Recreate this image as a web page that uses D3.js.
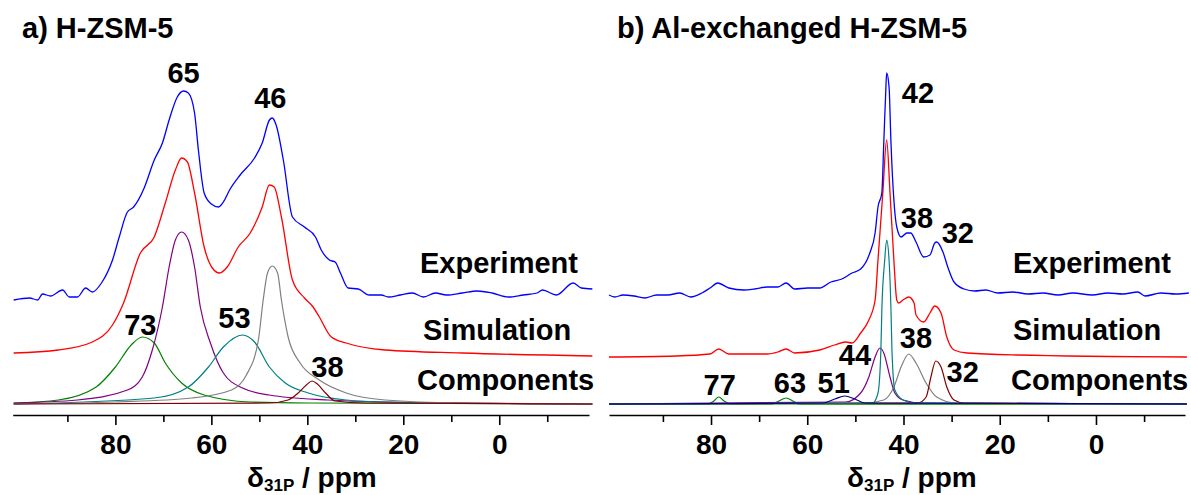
<!DOCTYPE html>
<html><head><meta charset="utf-8">
<script src="https://cdn.jsdelivr.net/npm/d3@7"></script>
<style>
html,body{margin:0;padding:0;background:#fff;}
text{font-family:"Liberation Sans",Arial,sans-serif;font-weight:bold;fill:#000;}
</style></head><body>
<svg id="c" width="1191" height="495"></svg>
<script>
// ---------- DATA (ppm, intensity) ----------
const majorTicks = [80, 60, 40, 20, 0];
const minorTicks = [90, 70, 50, 30, 10, -10];
const panelTitles = ["a) H-ZSM-5", "b) Al-exchanged H-ZSM-5"];
const rowLabels = ["Experiment", "Simulation", "Components"];

// Panel a
const aExperiment = [[101.2,-6],[97.9,-4],[96.2,-6],[95.2,0],[93.5,-2],[91.0,4],[89.6,-3],[87.9,-3],[86.2,6],[84.8,2],[82.9,11],[80.6,34],[79.2,57],[77.5,82],[76.2,87],[74.0,106],[71.9,134],[70.2,151],[68.8,174],[67.1,197],[65.8,203],[64.8,201],[63.5,181],[62.7,144],[61.5,101],[60.0,90],[58.5,87],[57.5,92],[56.2,104],[54.0,119],[51.0,136],[49.4,151],[47.9,174],[47.3,176],[46.5,169],[45.0,134],[43.1,77],[40.6,67],[38.3,57],[37.1,44],[35.4,34],[34.2,32],[33.1,21],[31.5,6],[29.4,5],[27.1,-1],[24.6,-1],[23.1,-3],[20.6,-1],[18.1,1],[15.8,-3],[13.3,1],[11.0,-1],[7.7,1],[4.6,3],[1.5,1],[-1.9,-3],[-5.0,-1],[-7.9,1],[-9.0,4],[-11.9,-1],[-15.4,11],[-17.1,6],[-19.4,5]];
const aSimulation = [[101.2,3],[91.9,6],[84.8,14],[80.6,31],[78.3,53],[74.8,103],[71.9,119],[69.6,153],[67.5,186],[66.2,198],[65.0,194],[63.5,163],[61.5,109],[59.8,88],[58.3,83],[56.7,89],[54.4,109],[51.9,123],[49.4,149],[47.9,171],[46.9,169],[45.4,139],[43.1,76],[40.6,58],[38.8,49],[37.5,39],[35.0,19],[31.9,13],[23.8,6],[7.7,3],[-19.4,0]];
const aComp73 = [[101.2,1],[91.9,4],[84.0,17],[80.0,37],[76.7,59],[74.4,67],[71.9,61],[69.6,41],[66.2,21],[61.5,9],[51.9,2],[39.8,1],[-19.4,0]];
const aComp66 = [[101.2,1],[87.9,4],[77.5,14],[74.4,27],[72.3,54],[70.2,97],[68.8,137],[67.5,164],[66.2,172],[64.8,164],[63.5,137],[62.3,97],[60.2,61],[57.5,31],[53.5,16],[47.9,9],[35.8,4],[23.8,2],[-19.4,0]];
const aComp53 = [[101.2,0],[71.9,6],[64.8,17],[60.6,37],[57.5,57],[53.5,69],[51.0,62],[47.9,37],[44.6,21],[39.8,11],[31.9,4],[23.8,2],[-19.4,0]];
const aComp47 = [[101.2,0],[80.0,2],[64.0,6],[55.8,14],[52.7,29],[50.2,64],[49.2,104],[48.3,131],[47.3,138],[46.2,131],[45.4,104],[44.0,67],[41.5,41],[37.5,24],[31.9,11],[23.8,4],[7.7,1],[-19.4,0]];
const aComp38 = [[101.2,0],[47.9,1],[44.0,4],[41.9,11],[40.2,19],[39.0,23],[37.9,20],[36.2,11],[34.2,3],[27.9,1],[-19.4,0]];
const aPeakLabels = [["65",65.8,321],["46",47.7,296],["73",74.8,69],["53",55.2,76],["38",35.8,27]];

// Panel b
const bExperiment = [[101.2,-1],[100.0,-3],[98.3,-1],[96.0,-2],[93.8,-4],[91.3,-1],[89.0,-1],[86.5,1],[84.2,-3],[81.9,1],[80.2,6],[78.6,11],[76.3,6],[73.2,4],[70.9,5],[68.4,7],[66.1,7],[64.4,11],[62.6,5],[59.9,6],[57.4,6],[55.1,12],[52.8,15],[50.7,21],[48.9,25],[47.0,41],[45.9,61],[45.3,87],[44.5,101],[44.1,151],[43.7,201],[43.5,221],[43.0,207],[42.6,151],[42.0,94],[41.4,67],[40.5,57],[39.3,61],[38.5,61],[37.4,52],[35.8,37],[34.5,39],[33.5,51],[33.1,52],[31.8,42],[30.8,27],[29.5,12],[27.4,5],[25.2,3],[22.9,4],[20.4,1],[17.3,2],[14.1,0],[11.0,1],[7.9,-1],[4.8,1],[0.8,-1],[-2.5,1],[-5.6,0],[-8.7,2],[-10.2,-2],[-13.5,1],[-16.6,0],[-19.3,1]];
const bSimulation = [[101.2,0],[87.3,1],[80.2,3],[78.4,8],[76.3,3],[68.4,3],[66.1,5],[64.4,8],[62.6,4],[57.4,7],[54.3,12],[52.0,15],[50.7,14],[48.9,24],[47.2,37],[45.9,57],[45.3,97],[44.3,164],[43.5,217],[42.8,164],[42.0,97],[41.4,57],[41.0,54],[40.1,57],[38.9,60],[37.8,54],[37.4,42],[35.8,35],[34.5,44],[33.5,51],[32.2,44],[31.0,20],[29.5,7],[26.8,4],[16.4,2],[-18.9,0]];
const bComp77 = [[101.2,0],[80.7,0],[79.4,3],[78.4,7],[77.3,3],[75.9,0],[-18.9,0]];
const bComp63 = [[101.2,0],[67.4,0],[65.9,3],[64.4,6],[63.0,3],[61.7,0],[-18.9,0]];
const bComp51 = [[101.2,0],[56.8,1],[54.3,5],[52.2,8],[50.1,5],[48.0,1],[-18.9,0]];
const bComp44 = [[101.2,0],[52.0,2],[48.9,11],[47.2,27],[45.9,47],[44.9,56],[44.1,51],[42.8,27],[41.8,11],[40.1,4],[36.2,1],[-18.9,0]];
const bComp43 = [[101.2,0],[46.4,1],[45.3,11],[44.7,54],[44.5,94],[43.9,144],[43.5,164],[43.0,144],[42.6,94],[42.4,54],[41.8,14],[40.1,4],[37.8,1],[-18.9,0]];
const bComp38 = [[101.2,0],[48.0,1],[44.1,4],[42.0,17],[40.5,37],[38.9,50],[37.4,41],[35.3,21],[33.1,7],[29.1,1],[-18.9,0]];
const bComp32 = [[101.2,0],[37.0,1],[35.3,7],[34.3,27],[33.3,43],[32.2,37],[31.0,17],[29.5,4],[27.4,1],[-18.9,0]];
const bPeakLabels = [["42",37.0,301],["38",37.2,176],["32",28.7,161],["77",78.2,9],["63",63.6,11],["51",54.5,11],["44",50.1,39],["38",37.4,56],["32",27.7,22]];

// ---------- LAYOUT ----------
const svg = d3.select("#c");
const FS = 29;
const yScale = d3.scaleLinear().domain([0, 340]).range([404, 64]);
const axisY = 415;

const panels = [
  {title: panelTitles[0], titleX: 22, range: [12.7, 589], domain: [101.4, -18.7],
   exp: aExperiment, sim: aSimulation, expOff: 110, simOff: 48,
   comps: [[aComp73,"#008000"],[aComp66,"#800080"],[aComp53,"#008080"],[aComp47,"#808080"],[aComp38,"#800000"]],
   labels: aPeakLabels, rowX: [420, 423, 417], axisTitleX: 247},
  {title: panelTitles[1], titleX: 617, range: [609, 1185], domain: [101.2, -18.5],
   exp: bExperiment, sim: bSimulation, expOff: 110, simOff: 47,
   comps: [[bComp77,"#008000"],[bComp63,"#008000"],[bComp44,"#800080"],[bComp38,"#808080"],[bComp32,"#800000"],[bComp43,"#008080"],[bComp51,"#000080"]],
   labels: bPeakLabels, rowX: [1013, 1013, 1011], axisTitleX: 847}
];

panels.forEach(p => {
  const x = d3.scaleLinear().domain(p.domain).range(p.range);
  const g = svg.append("g");
  const line = off => d3.line().x(d => x(d[0])).y(d => yScale(d[1] + off)).curve(d3.curveMonotoneX);

  // components
  p.comps.forEach(([data, col]) => {
    g.append("path").attr("d", line(0)(data)).attr("fill","none").attr("stroke",col).attr("stroke-width",1.2);
  });
  g.append("path").attr("d", line(p.simOff)(p.sim)).attr("fill","none").attr("stroke","#ff0000").attr("stroke-width",1.3);
  g.append("path").attr("d", line(p.expOff)(p.exp)).attr("fill","none").attr("stroke","#0000ff").attr("stroke-width",1.3);

  // axis
  const ax = d3.axisBottom(x).tickValues(majorTicks).tickSize(10).tickSizeOuter(0).tickPadding(9).tickFormat(d3.format("d"));
  const axG = g.append("g").attr("transform", `translate(0,${axisY})`).call(ax);
  axG.select(".domain").attr("stroke","#000").attr("stroke-width",1.6);
  axG.selectAll(".tick line").attr("stroke","#000").attr("stroke-width",1.6);
  axG.selectAll(".tick text").style("font-size", "28px").style("font-family","Liberation Sans, Arial, sans-serif").style("font-weight","bold").attr("fill","#000");
  const axMinor = d3.axisBottom(x).tickValues(minorTicks).tickSize(7).tickSizeOuter(0).tickFormat("");
  const mG = g.append("g").attr("transform", `translate(0,${axisY})`).call(axMinor);
  mG.select(".domain").remove();
  mG.selectAll(".tick line").attr("stroke","#000").attr("stroke-width",1.6);

  // axis title
  const t = g.append("text").attr("x", p.axisTitleX).attr("y", 487).style("font-size", "28px");
  t.append("tspan").text("δ");
  t.append("tspan").text("31P").style("font-size","17px").attr("dy", 4);
  t.append("tspan").text(" / ppm").attr("dy", -4);

  // panel title
  g.append("text").attr("x", p.titleX).attr("y", 38).style("font-size", FS+"px").text(p.title);

  // row labels
  const rowY = [273, 340, 390];
  rowLabels.forEach((r, i) => {
    g.append("text").attr("x", p.rowX[i]).attr("y", rowY[i]).style("font-size", FS+"px").text(r);
  });

  // peak labels
  p.labels.forEach(([txt, ppm, h]) => {
    g.append("text").attr("x", x(ppm)).attr("y", yScale(h)).attr("text-anchor","middle").style("font-size", FS+"px").text(txt);
  });
});
</script>
</body></html>
